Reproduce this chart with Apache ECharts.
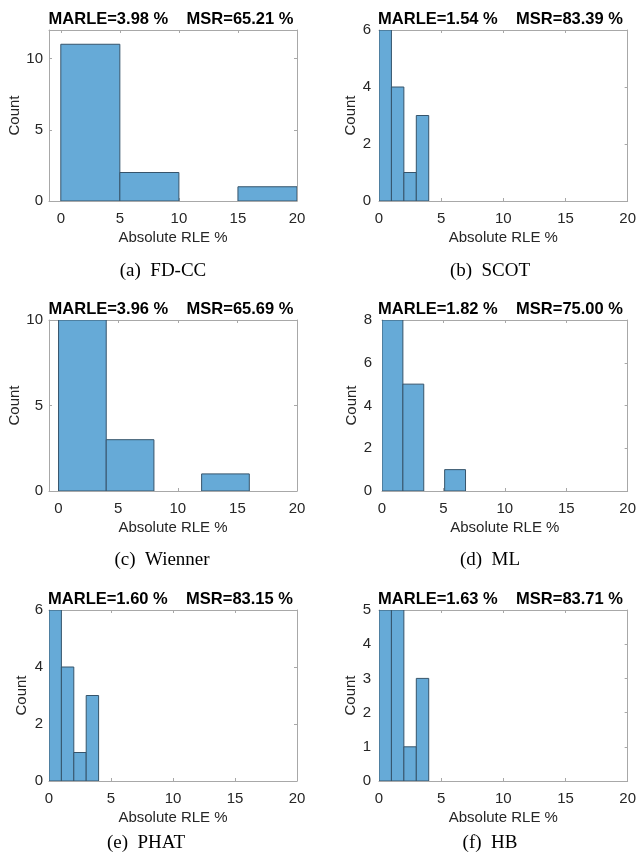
<!DOCTYPE html>
<html>
<head>
<meta charset="utf-8">
<script src="https://cdn.jsdelivr.net/npm/echarts@6/dist/echarts.min.js"></script>
<style>
html,body{margin:0;padding:0;background:#fff;}
#chart{width:639px;height:863px;}
</style>
</head>
<body>
<div id="chart"></div>
<script>
// ---- data ----
const xTickValues = [0, 5, 10, 15, 20];

const fdccEdges = [0, 5, 10, 15, 20];
const fdccCounts = [11, 2, 0, 1];
const scotEdges = [0, 1, 2, 3, 4];
const scotCounts = [6, 4, 1, 3];
const wiennerEdges = [0, 4, 8, 12, 16];
const wiennerCounts = [10, 3, 0, 1];
const mlEdges = [0, 1.7, 3.4, 5.1, 6.8];
const mlCounts = [8, 5, 0, 1];
const phatEdges = [0, 1, 2, 3, 4];
const phatCounts = [6, 4, 1, 3];
const hbEdges = [0, 1, 2, 3, 4];
const hbCounts = [5, 5, 1, 3];

const panelTitles = [
  'MARLE=3.98 %    MSR=65.21 %',
  'MARLE=1.54 %    MSR=83.39 %',
  'MARLE=3.96 %    MSR=65.69 %',
  'MARLE=1.82 %    MSR=75.00 %',
  'MARLE=1.60 %    MSR=83.15 %',
  'MARLE=1.63 %    MSR=83.71 %'
];
const captions = ['(a)  FD-CC', '(b)  SCOT', '(c)  Wienner', '(d)  ML', '(e)  PHAT', '(f)  HB'];
const xName = 'Absolute RLE %';
const yName = 'Count';

// ---- layout (pixels) ----
const panels = [
  {edges: fdccEdges, counts: fdccCounts, grid: {left: 49, top: 30, width: 248, height: 171}, xmin: -1, ymax: 12, yint: 5, yGap: 27, yMargin: 6, titleX: 171, capX: 163, capY: 271},
  {edges: scotEdges, counts: scotCounts, grid: {left: 379, top: 30, width: 249, height: 171}, xmin: 0, ymax: 6, yint: 2, yGap: 20, yMargin: 8, titleX: 500.5, capX: 490, capY: 271},
  {edges: wiennerEdges, counts: wiennerCounts, grid: {left: 49, top: 320, width: 248, height: 171}, xmin: -0.8, ymax: 10, yint: 5, yGap: 27, yMargin: 6, titleX: 171, capX: 162, capY: 560},
  {edges: mlEdges, counts: mlCounts, grid: {left: 382, top: 320, width: 246, height: 171}, xmin: 0, ymax: 8, yint: 2, yGap: 23, yMargin: 10, titleX: 500.5, capX: 490, capY: 560},
  {edges: phatEdges, counts: phatCounts, grid: {left: 49, top: 610, width: 248, height: 171}, xmin: 0, ymax: 6, yint: 2, yGap: 20, yMargin: 6, titleX: 170.5, capX: 146, capY: 843},
  {edges: hbEdges, counts: hbCounts, grid: {left: 379, top: 610, width: 249, height: 171}, xmin: 0, ymax: 5, yint: 1, yGap: 20, yMargin: 8, titleX: 500.5, capX: 490, capY: 843}
];
const titleYs = [19, 19, 309, 309, 599, 599];

const axisColor = '#a8a8a8';
const labelColor = '#262626';
const sans = '"Liberation Sans", Arial, sans-serif';
const serif = '"Liberation Serif", "Times New Roman", serif';

const grids = [], xAxes = [], yAxes = [], series = [], graphics = [];

panels.forEach((p, i) => {
  grids.push(Object.assign({containLabel: false}, p.grid));
  const lineStyle = {color: axisColor, width: 1};
  xAxes.push({
    type: 'value', gridIndex: i, position: 'bottom', min: p.xmin, max: 20,
    name: xName, nameLocation: 'middle', nameGap: 29,
    nameTextStyle: {fontFamily: sans, fontSize: 15, color: labelColor},
    axisLine: {show: true, onZero: false, lineStyle},
    axisTick: {show: true, inside: true, length: 3, lineStyle, customValues: xTickValues},
    axisLabel: {fontFamily: sans, fontSize: 15, color: labelColor, margin: 10, customValues: xTickValues},
    splitLine: {show: false}
  });
  xAxes.push({
    type: 'value', gridIndex: i, position: 'top', min: p.xmin, max: 20,
    axisLine: {show: true, onZero: false, lineStyle},
    axisTick: {show: true, inside: true, length: 3, lineStyle, customValues: xTickValues},
    axisLabel: {show: false, customValues: xTickValues},
    splitLine: {show: false}
  });
  yAxes.push({
    type: 'value', gridIndex: i, position: 'left', min: 0, max: p.ymax, interval: p.yint,
    name: yName, nameLocation: 'middle', nameGap: p.yGap,
    nameTextStyle: {fontFamily: sans, fontSize: 15, color: labelColor},
    axisLine: {show: true, onZero: false, lineStyle},
    axisTick: {show: true, inside: true, length: 3, lineStyle},
    axisLabel: {fontFamily: sans, fontSize: 15, color: labelColor, margin: p.yMargin, showMaxLabel: p.ymax % p.yint === 0},
    splitLine: {show: false}
  });
  yAxes.push({
    type: 'value', gridIndex: i, position: 'right', min: 0, max: p.ymax, interval: p.yint,
    axisLine: {show: true, onZero: false, lineStyle},
    axisTick: {show: true, inside: true, length: 3, lineStyle},
    axisLabel: {show: false},
    splitLine: {show: false}
  });
  const data = p.counts.map((c, k) => [p.edges[k], p.edges[k + 1], c]);
  series.push({
    type: 'custom', xAxisIndex: 2 * i, yAxisIndex: 2 * i,
    encode: {x: [0, 1], y: 2},
    data: data,
    clip: true,
    renderItem: function (params, api) {
      const x0 = api.value(0), x1 = api.value(1), c = api.value(2);
      if (!c) return null;
      const p0 = api.coord([x0, 0]);
      const p1 = api.coord([x1, c]);
      return {
        type: 'rect',
        shape: {x: p0[0], y: p1[1], width: p1[0] - p0[0], height: p0[1] - p1[1]},
        style: {fill: '#66aad7', stroke: '#36546b', lineWidth: 1}
      };
    }
  });
  graphics.push({
    type: 'text', x: p.titleX, y: titleYs[i],
    style: {text: panelTitles[i], font: 'bold 16.5px ' + sans, fill: '#000',
      align: 'center', verticalAlign: 'middle', textAlign: 'center', textVerticalAlign: 'middle'}
  });
  graphics.push({
    type: 'text', x: p.capX, y: p.capY,
    style: {text: captions[i], font: '19px ' + serif, fill: '#000',
      align: 'center', verticalAlign: 'middle', textAlign: 'center', textVerticalAlign: 'middle'}
  });
});

const chart = echarts.init(document.getElementById('chart'), null, {renderer: 'canvas'});
chart.setOption({
  animation: false,
  backgroundColor: '#fff',
  grid: grids,
  xAxis: xAxes,
  yAxis: yAxes,
  series: series,
  graphic: graphics
});
</script>
</body>
</html>
